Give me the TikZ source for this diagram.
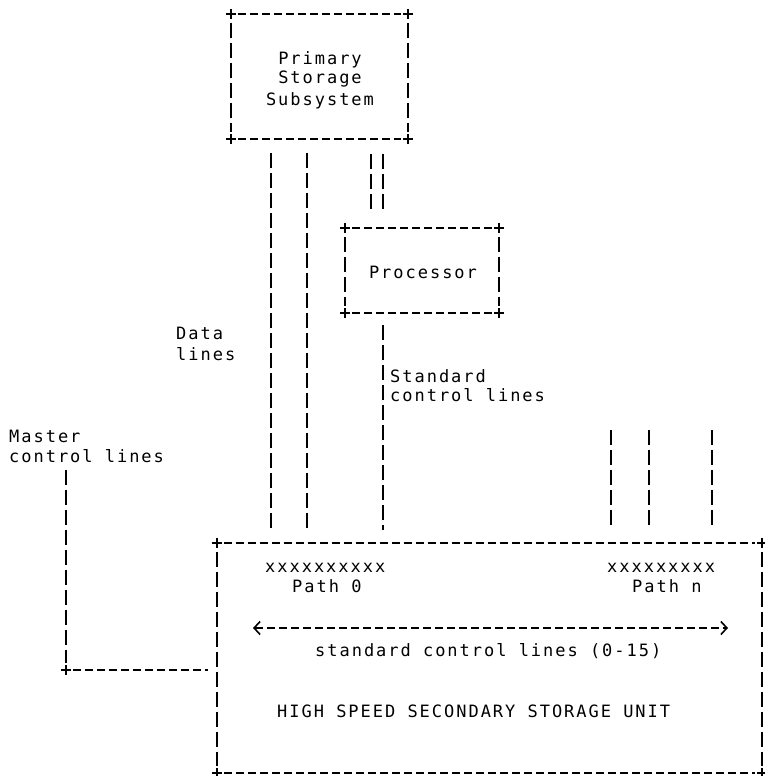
\documentclass[tikz,border=0pt]{standalone}
\usepackage{fontspec}
\newfontfamily\monofnt[LetterSpace=11.6]{DejaVu Sans Mono}
\usetikzlibrary{arrows.meta}
\tikzset{
  vl/.style={line width=2.1pt, dash pattern=on 15pt off 5pt},
  hl/.style={line width=2.1pt, dash pattern=on 8pt off 4pt},
  pl/.style={line width=1.9pt},
  box/.style={draw=none, rectangle, inner sep=0pt},
  lbl/.style={font=\monofnt\fontsize{17}{20}\selectfont, inner sep=0pt, anchor=base west},
  clbl/.style={lbl, anchor=base},
  barb/.tip={Straight Barb[length=6pt,width=13pt,line width=1.6pt]},
}
\newcommand\asciibox[1]{%
  \draw[hl,shorten <=7pt,shorten >=7pt] (#1.north west) -- (#1.north east);
  \draw[hl,shorten <=7pt,shorten >=7pt] (#1.south west) -- (#1.south east);
  \draw[vl,shorten <=9pt,shorten >=7pt] (#1.north west) -- (#1.south west);
  \draw[vl,shorten <=9pt,shorten >=7pt] (#1.north east) -- (#1.south east);
  \foreach \c in {north west,north east,south west,south east}
    \draw[pl] (#1.\c) +(-5,0) -- +(5,0) +(0,-5) -- +(0,5);
}
\begin{document}
\begin{tikzpicture}[x=1pt,y=-1pt]
\useasboundingbox (0,0) rectangle (764,776);

% boxes
\node[box, minimum width=177pt, minimum height=125pt] (prim) at (319.5,76.5) {};
\node[box, minimum width=154pt, minimum height=85pt] (proc) at (422,270.5) {};
\node[box, minimum width=545pt, minimum height=230pt] (hss) at (489.5,658) {};
\asciibox{prim}
\asciibox{proc}
\asciibox{hss}

% texts in boxes
\node[clbl] (p1) at (320,64) {Primary};
\node[clbl] (p2) at (320,84) {Storage};
\node[clbl] (p3) at (320,105) {Subsystem};
\node[clbl] (pr) at (423,278) {Processor};
\node[lbl] (x0) at (265,572) {xxxxxxxxxx};
\node[lbl] (path0) at (292,592) {Path 0};
\node[lbl] (xn) at (607,572) {xxxxxxxxx};
\node[lbl] (pathn) at (632,592) {Path n};
\node[lbl] (scl) at (315,656) {standard control lines (0-15)};
\node[lbl] (hs) at (277,717) {HIGH SPEED SECONDARY STORAGE UNIT};

% labels
\node[lbl] (d1) at (176,339) {Data};
\node[lbl] (d2) at (176,360) {lines};
\node[lbl] (s1) at (390,382) {Standard};
\node[lbl] (s2) at (390,401) {control lines};
\node[lbl] (m1) at (9,442) {Master};
\node[lbl] (m2) at (9,462) {control lines};

% x positions
\coordinate (xd1) at (271,0);
\coordinate (xd2) at (307,0);
\coordinate (xp1) at (371,0);
\coordinate (xp2) at (383,0);
\coordinate (xc) at (383,0);
\coordinate (r1) at (611,430);
\coordinate (r2) at (649,430);
\coordinate (r3) at (712,430);
\coordinate (mtop) at (66,470);
\coordinate (mc) at (66,670);
\coordinate (al) at (253,628);
\coordinate (ar) at (728,628);

% data lines
\draw[vl, shorten <=14pt, shorten >=13pt] (prim.south -| xd1) -- (hss.north -| xd1);
\draw[vl, shorten <=14pt, shorten >=13pt] (prim.south -| xd2) -- (hss.north -| xd2);
% primary to processor
\draw[vl, shorten <=15pt, shorten >=15pt] (prim.south -| xp1) -- (proc.north -| xp1);
\draw[vl, shorten <=15pt, shorten >=15pt] (prim.south -| xp2) -- (proc.north -| xp2);
% processor to unit
\draw[vl, shorten <=12pt, shorten >=13pt] (proc.south -| xc) -- (hss.north -| xc);
% path n lines
\draw[vl, shorten >=13pt] (r1) -- (hss.north -| r1);
\draw[vl, shorten >=13pt] (r2) -- (hss.north -| r2);
\draw[vl, shorten >=13pt] (r3) -- (hss.north -| r3);
% master control lines
\draw[vl, shorten >=7pt] (mtop) -- (mc);
\draw[hl, shorten <=7pt, shorten >=9pt] (mc) -- (mc -| hss.west);
\draw[pl] (mc) +(-5,0) -- +(5,0) +(0,-5) -- +(0,5);
% standard control lines arrow
\draw[hl, barb-barb] (al) -- (ar);
\end{tikzpicture}
\end{document}
